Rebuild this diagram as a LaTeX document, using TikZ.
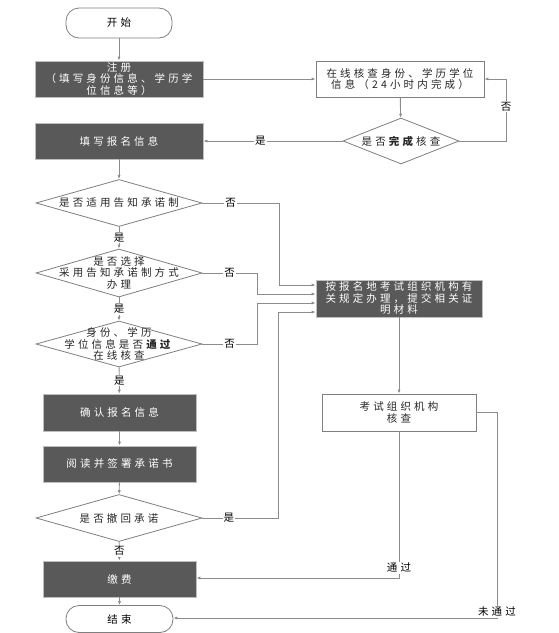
\documentclass[tikz,border=0pt]{standalone}
\usepackage{fontspec}
\setmainfont{Noto Sans CJK SC}[LetterSpace=30]
\usetikzlibrary{shapes.geometric,arrows.meta,calc}
\definecolor{darkfill}{HTML}{595959}
\definecolor{darkedge}{HTML}{BFBFBF}
\definecolor{lineclr}{HTML}{8C8C8C}
\definecolor{edgeclr}{HTML}{7F7F7F}
\begin{document}
\begin{tikzpicture}[x=1pt,y=-1pt,
  every node/.style={font=\fontsize{10.5}{11.5}\selectfont, align=center, inner sep=0pt},
  darkbox/.style={rectangle, draw=darkedge, fill=darkfill, text=white, line width=0.8pt},
  whitebox/.style={rectangle, draw=edgeclr, fill=white, text=black!85, line width=0.8pt},
  term/.style={rectangle, rounded corners=13pt, draw=edgeclr, fill=white, line width=0.8pt},
  decision/.style={diamond, draw=edgeclr, fill=white, line width=0.8pt},
  dtext/.style={text=black!85},
  conn/.style={draw=lineclr, line width=0.9pt},
  arr/.style={conn, -{Latex[length=4pt,width=3.2pt]}},
  lbl/.style={fill=white, inner sep=1pt, text=black}
]
\useasboundingbox (0,0) rectangle (559,633);

% left column
\node[term, minimum width=106pt, minimum height=30pt] (start) at (119,23) {开始};
\node[darkbox, minimum width=168pt, minimum height=36pt] (reg) at (119,79) {注册\\（填写身份信息、学历学\\位信息等）};
\node[darkbox, minimum width=168pt, minimum height=36pt] (fill) at (119,141) {填写报名信息};
\node[decision, minimum width=166pt, minimum height=47pt] (d1) at (119,203) {};
\node[dtext] (d1t) at (d1.center) {是否适用告知承诺制};
\node[decision, minimum width=166pt, minimum height=48pt] (d2) at (119,273) {};
\node[dtext] (d2t) at (d2.center) {是否选择\\采用告知承诺制方式\\办理};
\node[decision, minimum width=166pt, minimum height=46pt] (d3) at (119,344) {};
\node[dtext] (d3t) at (d3.center) {身份、学历\\学位信息是否\textbf{通过}\\在线核查};
\node[darkbox, minimum width=153pt, minimum height=37pt] (confirm) at (119.5,412.5) {确认报名信息};
\node[darkbox, minimum width=153pt, minimum height=36pt] (read) at (119.5,464) {阅读并签署承诺书};
\node[decision, minimum width=166pt, minimum height=47pt] (d4) at (119,518) {};
\node[dtext] (d4t) at (d4.center) {是否撤回承诺};
\node[darkbox, minimum width=153pt, minimum height=36pt] (pay) at (119.5,579) {缴费};
\node[term, minimum width=107pt, minimum height=27pt] (end) at (119.5,619) {结束};

% right column
\node[whitebox, minimum width=168pt, minimum height=36pt] (chk) at (400,79) {在线核查身份、学历学位\\信息（24小时内完成）};
\node[decision, minimum width=116pt, minimum height=46pt] (d0) at (401,141) {};
\node[dtext] (d0t) at (d0.center) {是否\textbf{完成}核查};
\node[darkbox, minimum width=166pt, minimum height=37pt] (proc) at (399,298.5) {按报名地考试组织机构有\\关规定办理，提交相关证\\明材料};
\node[whitebox, minimum width=154pt, minimum height=37pt] (org) at (399,412.5) {考试组织机构\\核查};

% connectors, main column
\draw[arr] (start) -- (reg);
\draw[arr] (reg) -- (chk);
\draw[arr] (chk) -- (d0);
\draw[arr] (d0.east) -- (506,141) -- node[lbl, pos=0.55] {否} (506,79) -- (chk.east);
\draw[arr] (d0.west) -- node[lbl, pos=0.59] {是} (fill.east);
\draw[arr] (fill) -- (d1);
\draw[arr] (d1) -- node[lbl] {是} (d2);
\draw[arr] (d2) -- node[lbl] {是} (d3);
\draw[arr] (d3) -- node[lbl] {是} (confirm);
\draw[arr] (confirm) -- (read);
\draw[arr] (read) -- (d4);
\draw[arr] (d4) -- node[lbl] {否} (pay);
\draw[arr] (pay) -- (end);

% connectors into the process box
\draw[arr] (d1.east) -- node[lbl, pos=0.37] {否} (279,203) -- (279,285) -- ([yshift=13.5pt]proc.west);
\draw[arr] (d2.east) -- node[lbl, pos=0.5] {否} (257,273) -- (257,294) -- ([yshift=4.5pt]proc.west);
\draw[arr] (d3.east) -- node[lbl, pos=0.5] {否} (257,344) -- (257,303) -- ([yshift=-4.5pt]proc.west);
\draw[arr] (d4.east) -- node[lbl, pos=0.35] {是} (278,518) -- (278,312) -- ([yshift=-13.5pt]proc.west);

% process chain
\draw[arr] (proc) -- (org);
\draw[arr] (org.south) -- node[lbl, pos=0.93] {通过} (399,578) -- (pay.east |- 0,578);
\draw[arr] (org.east) -- (497,412.5) -- node[lbl, pos=0.97] {未通过} (497,618) -- (end.east |- 0,618);
\end{tikzpicture}
\end{document}
